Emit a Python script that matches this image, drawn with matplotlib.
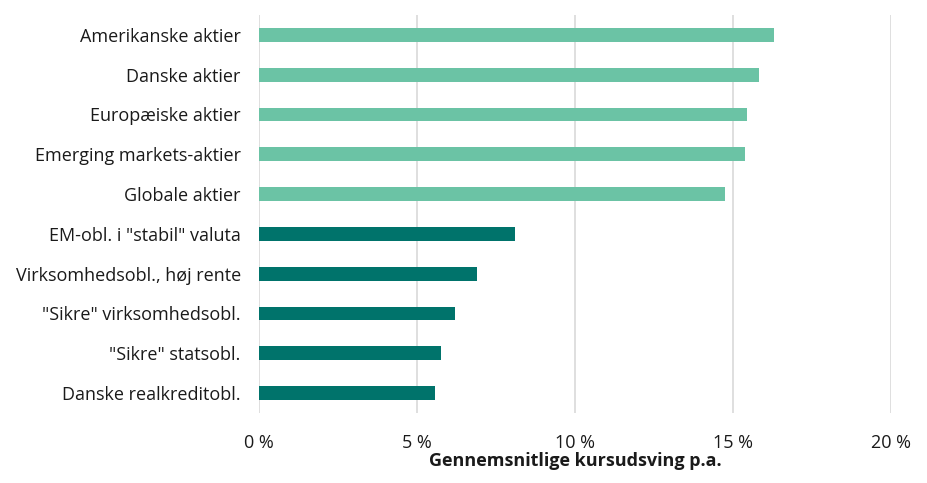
import matplotlib
matplotlib.use("Agg")
import matplotlib.pyplot as plt
from matplotlib.ticker import FuncFormatter

# Data (top to bottom)
categories = [
    "Amerikanske aktier",
    "Danske aktier",
    "Europæiske aktier",
    "Emerging markets-aktier",
    "Globale aktier",
    'EM-obl. i "stabil" valuta',
    "Virksomhedsobl., høj rente",
    '"Sikre" virksomhedsobl.',
    '"Sikre" statsobl.',
    "Danske realkreditobl.",
]
values = [16.29, 15.84, 15.45, 15.38, 14.74, 8.09, 6.91, 6.19, 5.76, 5.56]
groups = ["aktie"] * 5 + ["obl"] * 5

group_colors = {"aktie": "#6BC3A5", "obl": "#00736B"}

plt.rcParams['font.family'] = ['Open Sans', 'DejaVu Sans']

fig = plt.figure(figsize=(9.28, 4.83), dpi=100)
ax = fig.add_axes([0.279, 0.145, 0.681, 0.824])

y = list(range(len(categories)))
ax.barh(y, values, height=0.35, color=[group_colors[g] for g in groups], zorder=3)

ax.set_ylim(len(categories) - 0.5, -0.5)
ax.set_yticks(y)
ax.set_yticklabels(categories, fontsize=13, color="#1a1a1a")

ax.set_xlim(0, 20)
ax.set_xticks([0, 5, 10, 15, 20])
ax.xaxis.set_major_formatter(FuncFormatter(lambda v, p: f"{v:.0f} %"))
ax.tick_params(axis="x", length=0, pad=15, labelsize=13, labelcolor="#1a1a1a")
ax.tick_params(axis="y", length=0, pad=13)
ax.grid(axis="x", color="#d9d9d9", linewidth=1.2, zorder=0)

for s in ax.spines.values():
    s.set_visible(False)

ax.set_xlabel("Gennemsnitlige kursudsving p.a.", fontsize=13, fontweight="bold",
              labelpad=0, color="#1a1a1a")

fig.savefig("out.png", dpi=100)
